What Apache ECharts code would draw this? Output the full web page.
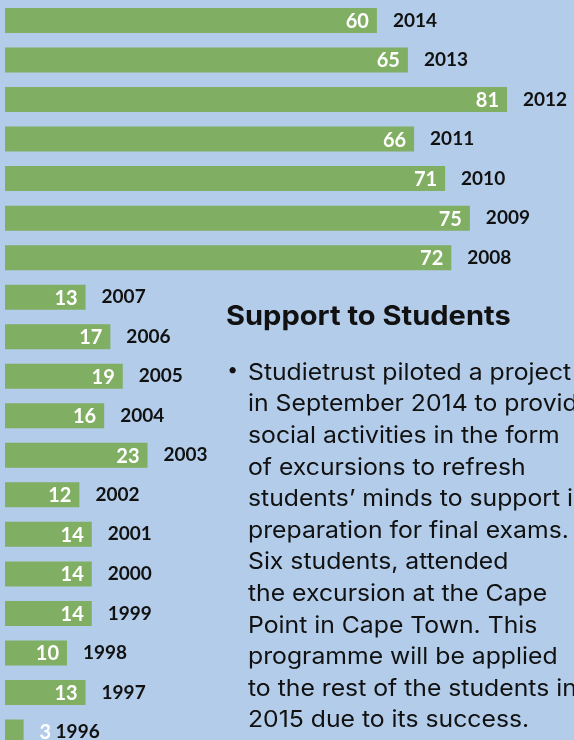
<!DOCTYPE html>
<html>
<head>
<meta charset="utf-8">
<style>
  html, body { margin: 0; padding: 0; background: #b2cce9; }
  #chart { width: 574px; height: 740px; }
</style>
<script src="https://cdn.jsdelivr.net/npm/echarts@6/dist/echarts.min.js"></script>
</head>
<body>
<div id="chart"></div>
<script>
// Students supported per year, newest first
const years = ['2014','2013','2012','2011','2010','2009','2008','2007','2006','2005','2004','2003','2002','2001','2000','1999','1998','1997','1996'];
const students = [60, 65, 81, 66, 71, 75, 72, 13, 17, 19, 16, 23, 12, 14, 14, 14, 10, 13, 3];

const heading = 'Support to Students';
const bulletLines = [
  'Studietrust piloted a project',
  'in September 2014 to provide',
  'social activities in the form',
  'of excursions to refresh',
  'students\u2019 minds to support in',
  'preparation for final exams.',
  'Six students, attended',
  'the excursion at the Cape',
  'Point in Cape Town. This',
  'programme will be applied',
  'to the rest of the students in',
  '2015 due to its success.'
];

const NUM_FONT = 'Lato, "Open Sans", sans-serif';
const TEXT_FONT = 'Inter, "Open Sans", sans-serif';
const BG = '#b2cce9';
const GREEN = '#80ae62';
// the body face runs a little wide, so text is stretched horizontally
const STRETCH = 1.076;

const chart = echarts.init(document.getElementById('chart'), null, { renderer: 'canvas' });

// Bars too short to hold their number show it just outside the end
const valueData = students.map(v => v < 5
  ? { value: v, label: { position: 'right', distance: 16 } }
  : v);
const yearData = students.map(v => v < 5
  ? { value: v, label: { distance: 32 } }
  : v);

const textGraphics = [
  {
    type: 'text', x: 226, y: 303, scaleX: STRETCH,
    style: { text: heading, font: '700 27px ' + TEXT_FONT, fill: '#111', verticalAlign: 'top' }
  },
  {
    type: 'text', x: 227, y: 360,
    style: { text: '\u2022', font: '400 20px ' + TEXT_FONT, fill: '#111', verticalAlign: 'top' }
  },
  {
    type: 'text', x: 248, y: 357, scaleX: STRETCH,
    style: {
      text: bulletLines.join('\n'),
      font: '400 23px ' + TEXT_FONT,
      lineHeight: 31.6,
      fill: '#111',
      verticalAlign: 'top'
    }
  }
];

chart.setOption({
  backgroundColor: BG,
  animation: false,
  grid: { left: 5, right: 0, top: 20.5, bottom: 8, containLabel: false },
  xAxis: {
    type: 'value', min: 0, max: 91.8,
    show: false
  },
  yAxis: {
    type: 'category', data: years, inverse: true,
    boundaryGap: false,
    show: false
  },
  series: [
    {
      type: 'bar',
      data: valueData,
      barWidth: 25,
      itemStyle: { color: GREEN },
      label: {
        show: true,
        position: 'insideRight',
        distance: 8,
        color: '#ffffff',
        fontFamily: NUM_FONT,
        fontWeight: 700,
        fontSize: 20,
        offset: [0, 1]
      },
      z: 2
    },
    {
      // transparent twin carrying the year labels
      type: 'bar',
      data: yearData,
      barWidth: 25,
      barGap: '-100%',
      itemStyle: { color: 'rgba(0,0,0,0)' },
      label: {
        show: true,
        position: 'right',
        distance: 16,
        color: '#111',
        fontFamily: NUM_FONT,
        fontWeight: 700,
        fontSize: 19,
        formatter: p => years[p.dataIndex]
      },
      silent: true,
      z: 3
    }
  ],
  graphic: textGraphics
});
</script>
</body>
</html>
